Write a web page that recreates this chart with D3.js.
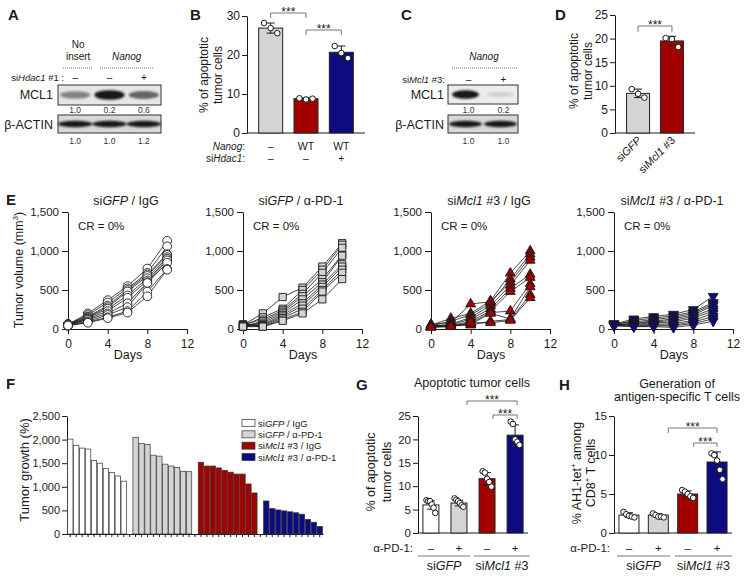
<!DOCTYPE html>
<html>
<head>
<meta charset="utf-8">
<script src="https://cdn.jsdelivr.net/npm/d3@7"></script>
<style>
  body { margin: 0; background: #fff; }
  svg { font-family: 'Liberation Sans', Arial, sans-serif; }
</style>
</head>
<body>
<svg id="fig" width="747" height="577"></svg>
<script>
// ---------- data ----------

// A: MCL1 blot, no insert vs Nanog, +/- siHdac1 #1
const blotASiHdac1 = ['–', '–', '+'];
const blotAMcl1Quant = ['1.0', '0.2', '0.6'];
const blotAActinQuant = ['1.0', '1.0', '1.2'];
const blotAMcl1Band = [0.45, 0.95, 0.6];   // how dark the band looks
const blotAActinBand = [0.95, 0.95, 0.95];

// B: % apoptotic tumor cells
const bNanog = ['–', 'WT', 'WT'];
const bSiHdac1 = ['–', '–', '+'];
const bMeans = [26.9, 8.8, 20.7];
const bSd = [1.3, 0.2, 1.6];
const bPoints = [[28.2, 26.9, 25.6], [8.9, 8.6, 8.8], [22.3, 20.5, 19.2]];
const bTicks = [0, 10, 20, 30];

// C: MCL1 blot, Nanog +/- siMcl1 #3
const blotCSiMcl1 = ['–', '+'];
const blotCMcl1Quant = ['1.0', '0.2'];
const blotCActinQuant = ['1.0', '1.0'];
const blotCMcl1Band = [0.95, 0.12];
const blotCActinBand = [0.95, 0.95];

// D: % apoptotic tumor cells
const dLabels = [[['si'], ['GFP', 'i']], [['si'], ['Mcl1', 'i'], [' #3']]];
const dMeans = [8.4, 19.5];
const dSd = [0.9, 1.0];
const dPoints = [[9.3, 8.3, 7.5], [20.1, 19.9, 18.2]];
const dTicks = [0, 5, 10, 15, 20, 25];

// E: tumor volume (mm3) per mouse
const eDays = [0, 2, 4, 6, 8, 10];
const eGfpIgg = [
  [60, 200, 370, 550, 775, 1130],
  [55, 180, 340, 520, 720, 1060],
  [65, 160, 300, 500, 700, 960],
  [50, 150, 280, 480, 680, 950],
  [60, 140, 260, 430, 650, 920],
  [45, 130, 230, 400, 620, 900],
  [55, 120, 200, 330, 600, 880],
  [50, 100, 180, 280, 590, 850],
  [40, 90, 150, 230, 480, 770],
  [45, 80, 140, 210, 420, 760]
];
const eGfpPd1 = [
  [50, 200, 410, 530, 800, 1100],
  [40, 150, 260, 500, 760, 1080],
  [60, 120, 240, 450, 720, 1040],
  [30, 100, 220, 420, 640, 950],
  [45, 80, 200, 380, 600, 940],
  [55, 60, 180, 330, 570, 830],
  [35, 50, 160, 300, 540, 800],
  [50, 40, 140, 260, 500, 760],
  [40, 30, 120, 220, 480, 720],
  [30, 30, 105, 200, 380, 640]
];
const eMclIgg = [
  [50, 135, 200, 360, 715, 1000],
  [40, 100, 180, 330, 640, 960],
  [60, 80, 320, 350, 600, 920],
  [30, 60, 150, 300, 560, 880],
  [45, 50, 130, 260, 520, 700],
  [25, 40, 100, 230, 480, 660],
  [55, 30, 80, 210, 230, 580],
  [35, 50, 60, 200, 130, 540],
  [30, 40, 50, 100, 120, 440],
  [20, 30, 80, 80, 110, 400]
];
const eMclPd1 = [
  [60, 130, 160, 190, 250, 420],
  [50, 110, 140, 170, 220, 340],
  [70, 90, 120, 150, 200, 320],
  [40, 80, 100, 130, 180, 300],
  [55, 70, 90, 110, 160, 260],
  [45, 60, 80, 90, 140, 230],
  [65, 50, 60, 70, 110, 200],
  [40, 40, 50, 50, 90, 160],
  [50, 30, 40, 40, 70, 130],
  [45, 30, 30, 20, 50, 100]
];
const eTicksX = [0, 4, 8, 12];
const eTicksY = [0, 500, 1000, 1500];

// F: tumor growth (%) waterfall
const fGfpIgg = [2010, 1880, 1820, 1800, 1560, 1500, 1390, 1300, 1230, 1120];
const fGfpPd1 = [2050, 1920, 1900, 1670, 1650, 1480, 1440, 1410, 1330, 1320];
const fMclIgg = [1520, 1440, 1440, 1400, 1350, 1310, 1270, 1270, 1060, 870];
const fMclPd1 = [700, 540, 510, 490, 470, 450, 420, 310, 250, 160];
const fTicks = [0, 500, 1000, 1500, 2000, 2500];
const fLegend = [
  [['si'], ['GFP', 'i'], [' / IgG']],
  [['si'], ['GFP', 'i'], [' / α-PD-1']],
  [['si'], ['Mcl1', 'i'], [' #3 / IgG']],
  [['si'], ['Mcl1', 'i'], [' #3 / α-PD-1']]
];

// G: apoptotic tumor cells
const gMeans = [6.0, 6.4, 11.6, 20.9];
const gSd = [0.9, 0.6, 1.3, 2.2];
const gPoints = [
  [7.0, 6.8, 6.8, 6.1, 5.4, 4.3],
  [7.4, 7.1, 6.8, 6.4, 5.9, 5.6],
  [13.2, 12.9, 11.6, 10.9, 9.9],
  [23.8, 23.3, 20.0, 19.5, 18.8]
];
const gTicks = [0, 5, 10, 15, 20, 25];

// H: AH1-tet+ among CD8+ T cells
const hMeans = [2.3, 2.3, 5.0, 9.1];
const hSd = [0.3, 0.2, 0.4, 1.3];
const hPoints = [
  [2.7, 2.4, 2.2, 2.1, 2.0],
  [2.5, 2.3, 2.1, 2.1, 2.0],
  [5.5, 5.3, 5.0, 4.7, 4.5],
  [10.2, 10.0, 9.3, 8.1, 6.9]
];
const hTicks = [0, 5, 10, 15];

const pd1Signs = ['–', '+', '–', '+'];
const groupColors = ['#ffffff', '#d4d4d4', '#a30000', '#0c0c80'];

// ---------- helpers ----------
const ink = '#1a1a1a';
const FONT = "'Liberation Sans', Arial, sans-serif";
const svg = d3.select('#fig');

svg.append('defs').append('filter').attr('id', 'blur')
  .attr('x', '-20%').attr('y', '-50%').attr('width', '140%').attr('height', '200%')
  .append('feGaussianBlur').attr('stdDeviation', 1.3);

function addText(parent, x, y, parts, o = {}) {
  const size = o.size || 12;
  const t = parent.append('text')
    .attr('x', x).attr('y', y)
    .attr('font-size', size)
    .attr('text-anchor', o.anchor || 'start')
    .attr('fill', o.fill || ink);
  if (o.bold) t.attr('font-weight', 'bold');
  if (o.rotate) t.attr('transform', `rotate(${o.rotate},${x},${y})`);
  const list = typeof parts === 'string' ? [[parts]] : parts;
  let shifted = false;
  list.forEach(([s, k]) => {
    const ts = t.append('tspan').text(s);
    if (k === 'i') ts.attr('font-style', 'italic');
    if (k === 'sup') {
      ts.attr('font-size', size * 0.62).attr('dy', -size * 0.42);
      shifted = true;
    } else if (shifted) {
      ts.attr('dy', size * 0.42);
      shifted = false;
    }
  });
  return t;
}

function styleAxis(sel, size) {
  sel.attr('font-family', FONT).attr('font-size', size);
  sel.select('.domain').attr('stroke', ink).attr('stroke-width', 1);
  sel.selectAll('.tick line').attr('stroke', ink);
  sel.selectAll('.tick text').attr('fill', ink);
}

function bracket(x1, x2, yLine, drop) {
  const g = svg.append('g');
  g.append('path')
    .attr('d', `M${x1},${yLine + drop}V${yLine}H${x2}V${yLine + drop}`)
    .attr('fill', 'none').attr('stroke', '#666').attr('stroke-width', 0.9);
  addText(g, (x1 + x2) / 2, yLine + 2.5, '***', { size: 12, anchor: 'middle' });
}

function blot(cfg) {
  const g = svg.append('g');
  const lane = d3.scaleBand().domain(d3.range(cfg.bands.length)).range([cfg.x0, cfg.x1]);
  g.append('rect')
    .attr('x', cfg.x0).attr('y', cfg.y0)
    .attr('width', cfg.x1 - cfg.x0).attr('height', cfg.y1 - cfg.y0)
    .attr('fill', cfg.bg).attr('stroke', '#333').attr('stroke-width', 1);
  g.selectAll('ellipse').data(cfg.bands).join('ellipse')
    .attr('cx', (d, i) => lane(i) + lane.bandwidth() / 2)
    .attr('cy', (cfg.y0 + cfg.y1) / 2 + (cfg.dy || 0))
    .attr('rx', lane.bandwidth() / 2 - cfg.inset)
    .attr('ry', d => cfg.ry * (0.6 + 0.5 * d))
    .attr('fill', '#111').attr('opacity', d => d)
    .attr('filter', 'url(#blur)');
  return d => lane(d) + lane.bandwidth() / 2;
}

function barPanel(cfg) {
  const y = d3.scaleLinear().domain([0, cfg.max]).range([cfg.yBase, cfg.yTop]);
  const x = d3.scalePoint().domain(d3.range(cfg.means.length))
    .range([cfg.x0, cfg.x1]).padding(cfg.pad);
  const g = svg.append('g');

  g.append('g').attr('transform', `translate(${cfg.x0},0)`)
    .call(d3.axisLeft(y).tickValues(cfg.ticks).tickSize(5).tickPadding(2).tickSizeOuter(0))
    .call(s => styleAxis(s, cfg.tickFont || 12));
  g.append('line')
    .attr('x1', cfg.x0).attr('x2', cfg.x1)
    .attr('y1', cfg.yBase).attr('y2', cfg.yBase)
    .attr('stroke', ink);

  g.selectAll('rect.bar').data(cfg.means).join('rect')
    .attr('class', 'bar')
    .attr('x', (d, i) => x(i) - cfg.bw / 2).attr('width', cfg.bw)
    .attr('y', d => y(d)).attr('height', d => cfg.yBase - y(d))
    .attr('fill', (d, i) => cfg.colors[i])
    .attr('stroke', '#222').attr('stroke-width', 1);

  // mean +/- SD
  cfg.means.forEach((m, i) => {
    const lo = y(m - cfg.sd[i]), hi = y(m + cfg.sd[i]), cx = x(i), cw = 4;
    g.append('path')
      .attr('d', `M${cx},${lo}V${hi}M${cx - cw},${hi}H${cx + cw}M${cx - cw},${lo}H${cx + cw}`)
      .attr('stroke', ink).attr('stroke-width', 1).attr('fill', 'none');
  });

  cfg.points.forEach((pts, i) => {
    const n = pts.length, spread = cfg.bw * 0.55;
    pts.forEach((v, j) => {
      const off = n > 1 ? (j / (n - 1) - 0.5) * spread : 0;
      g.append('circle')
        .attr('cx', x(i) + off).attr('cy', y(v)).attr('r', 2.8)
        .attr('fill', '#fff').attr('stroke', ink).attr('stroke-width', 1);
    });
  });
  return { x, y, g };
}

// ---------- panel letters ----------
[['A', 8, 20], ['B', 190, 20], ['C', 401, 20], ['D', 555, 20],
 ['E', 6, 205], ['F', 6, 389], ['G', 356, 390], ['H', 559, 390]]
  .forEach(([s, x, y]) => addText(svg, x, y, s, { size: 15, bold: true }));

// ---------- A ----------
{
  const g = svg.append('g');
  const laneA = blot({ x0: 58, x1: 161, y0: 85, y1: 105, bands: blotAMcl1Band, bg: '#e6e6e6', ry: 4.5, inset: 2 });
  blot({ x0: 58, x1: 161, y0: 115, y1: 133, bands: blotAActinBand, bg: '#d8d8d8', ry: 3, inset: 0 });
  addText(g, laneA(0) + 3, 48, 'No', { size: 10, anchor: 'middle' });
  addText(g, laneA(0) + 3, 60, 'insert', { size: 10, anchor: 'middle' });
  addText(g, (laneA(1) + laneA(2)) / 2, 60, [['Nanog', 'i']], { size: 10, anchor: 'middle' });
  [[63, 93], [100, 154]].forEach(([a, b]) => g.append('line')
    .attr('x1', a).attr('x2', b).attr('y1', 68).attr('y2', 68)
    .attr('stroke', '#777').attr('stroke-dasharray', '1,1'));
  addText(g, 64, 81, [['si'], ['Hdac1', 'i'], [' #1 :']], { size: 9.5, anchor: 'end' });
  blotASiHdac1.forEach((s, i) => addText(g, laneA(i), 81, s, { size: 10, anchor: 'middle' }));
  addText(g, 53, 99, 'MCL1', { size: 12.5, anchor: 'end' });
  addText(g, 53, 129, 'β-ACTIN', { size: 12.5, anchor: 'end' });
  blotAMcl1Quant.forEach((s, i) => addText(g, laneA(i), 113, s, { size: 8.5, anchor: 'middle', fill: '#333' }));
  blotAActinQuant.forEach((s, i) => addText(g, laneA(i), 144, s, { size: 8.5, anchor: 'middle', fill: '#333' }));
}

// ---------- B ----------
{
  const p = barPanel({ x0: 247, x1: 365, yBase: 133, yTop: 16, max: 30, ticks: bTicks, pad: 0.67,
    bw: 24, means: bMeans, sd: bSd, points: bPoints, colors: groupColors.slice(1) });
  addText(svg, 208, 75, '% of apoptotic', { size: 12, anchor: 'middle', rotate: -90 });
  addText(svg, 222, 75, 'tumor cells', { size: 12, anchor: 'middle', rotate: -90 });
  addText(svg, 245, 150, [['Nanog', 'i'], [':']], { size: 10, anchor: 'end' });
  addText(svg, 245, 162, [['si'], ['Hdac1', 'i'], [':']], { size: 10, anchor: 'end' });
  bNanog.forEach((s, i) => addText(svg, p.x(i), 150, s, { size: 10.5, anchor: 'middle' }));
  bSiHdac1.forEach((s, i) => addText(svg, p.x(i), 162, s, { size: 10.5, anchor: 'middle' }));
  bracket(p.x(0), p.x(1), 13, 5);
  bracket(p.x(1), p.x(2), 30, 5);
}

// ---------- C ----------
{
  const g = svg.append('g');
  const laneC = blot({ x0: 448, x1: 518, y0: 85, y1: 104, bands: blotCMcl1Band, bg: '#ececec', ry: 4, inset: 4 });
  blot({ x0: 448, x1: 518, y0: 115, y1: 133, bands: blotCActinBand, bg: '#d8d8d8', ry: 3, inset: 1 });
  addText(g, 484, 60, [['Nanog', 'i']], { size: 10, anchor: 'middle' });
  g.append('line').attr('x1', 452).attr('x2', 518).attr('y1', 68).attr('y2', 68)
    .attr('stroke', '#777').attr('stroke-dasharray', '1,1');
  addText(g, 445, 83, [['si'], ['Mcl1', 'i'], [' #3:']], { size: 9.5, anchor: 'end' });
  blotCSiMcl1.forEach((s, i) => addText(g, laneC(i) + 3, 83, s, { size: 10, anchor: 'middle' }));
  addText(g, 444, 99, 'MCL1', { size: 12.5, anchor: 'end' });
  addText(g, 444, 129, 'β-ACTIN', { size: 12.5, anchor: 'end' });
  blotCMcl1Quant.forEach((s, i) => addText(g, laneC(i) + 3, 113, s, { size: 8.5, anchor: 'middle', fill: '#333' }));
  blotCActinQuant.forEach((s, i) => addText(g, laneC(i) + 3, 144, s, { size: 8.5, anchor: 'middle', fill: '#333' }));
}

// ---------- D ----------
{
  const p = barPanel({ x0: 615, x1: 695, yBase: 133, yTop: 15, max: 25, ticks: dTicks, pad: 0.68,
    bw: 23, means: dMeans, sd: dSd, points: dPoints, colors: [groupColors[1], groupColors[2]] });
  addText(svg, 578, 71, '% of apoptotic', { size: 12, anchor: 'middle', rotate: -90 });
  addText(svg, 592, 71, 'tumor cells', { size: 12, anchor: 'middle', rotate: -90 });
  dLabels.forEach((parts, i) => addText(svg, p.x(i) + 4, 141, parts, { size: 11, anchor: 'end', rotate: -45 }));
  bracket(p.x(0), p.x(1), 26, 6);
}

// ---------- E ----------
const ePanels = [
  { x0: 68, data: eGfpIgg, sym: d3.symbolCircle, size: 60, rot: 0, fill: groupColors[0],
    title: [['si'], ['GFP', 'i'], [' / IgG']] },
  { x0: 243, data: eGfpPd1, sym: d3.symbolSquare, size: 52, rot: 0, fill: groupColors[1],
    title: [['si'], ['GFP', 'i'], [' / α-PD-1']] },
  { x0: 431, data: eMclIgg, sym: d3.symbolTriangle, size: 42, rot: 0, fill: groupColors[2],
    title: [['si'], ['Mcl1', 'i'], [' #3 / IgG']] },
  { x0: 614, data: eMclPd1, sym: d3.symbolTriangle, size: 42, rot: 180, fill: groupColors[3],
    title: [['si'], ['Mcl1', 'i'], [' #3 / α-PD-1']] }
];

ePanels.forEach((pn) => {
  const g = svg.append('g');
  const x = d3.scaleLinear().domain([0, 12]).range([pn.x0, pn.x0 + 119]);
  const y = d3.scaleLinear().domain([0, 1500]).range([329, 212]);

  g.append('g').attr('transform', 'translate(0,329)')
    .call(d3.axisBottom(x).tickValues(eTicksX).tickSize(5).tickPadding(5).tickSizeOuter(0))
    .call(s => styleAxis(s, 12));
  g.append('g').attr('transform', `translate(${pn.x0},0)`)
    .call(d3.axisLeft(y).tickValues(eTicksY).tickFormat(d3.format(',')).tickSize(6).tickPadding(3).tickSizeOuter(0))
    .call(s => styleAxis(s, 11.5));

  const line = d3.line().x((d, i) => x(eDays[i])).y(d => y(d));
  g.selectAll('path.mouse').data(pn.data).join('path')
    .attr('class', 'mouse').attr('d', line)
    .attr('fill', 'none').attr('stroke', ink).attr('stroke-width', 0.8);

  const sym = d3.symbol().type(pn.sym).size(pn.size);
  pn.data.forEach(series => {
    g.selectAll(null).data(series).join('path')
      .attr('d', sym)
      .attr('transform', (d, i) => `translate(${x(eDays[i])},${y(d)}) rotate(${pn.rot})`)
      .attr('fill', pn.fill).attr('stroke', ink).attr('stroke-width', 0.9);
  });

  addText(g, pn.x0 + 58, 205, pn.title, { size: 12.5, anchor: 'middle' });
  addText(g, pn.x0 + 10, 230, 'CR = 0%', { size: 11.5 });
  addText(g, pn.x0 + 60, 359, 'Days', { size: 12.5, anchor: 'middle' });
});
addText(svg, 23, 270, [['Tumor volume (mm'], ['3', 'sup'], [')']], { size: 12.5, anchor: 'middle', rotate: -90 });

// ---------- F ----------
{
  const g = svg.append('g');
  const fAll = [fGfpIgg, fGfpPd1, fMclIgg, fMclPd1];
  const fData = fAll.flatMap((arr, gi) => arr.map((v, i) => ({ v, gi, slot: gi * 11 + i })));
  const x = d3.scaleBand().domain(d3.range(43)).range([67, 323]).paddingInner(0.1).paddingOuter(0.1);
  const y = d3.scaleLinear().domain([0, 2500]).range([534, 416]);

  g.append('g').attr('transform', 'translate(0,534)')
    .call(d3.axisBottom(x).tickFormat('').tickSize(3).tickSizeOuter(0))
    .call(s => styleAxis(s, 11));
  g.append('g').attr('transform', 'translate(67,0)')
    .call(d3.axisLeft(y).tickValues(fTicks).tickSize(5).tickPadding(2).tickSizeOuter(0))
    .call(s => styleAxis(s, 11));

  g.selectAll('rect.bar').data(fData).join('rect')
    .attr('class', 'bar')
    .attr('x', d => x(d.slot)).attr('width', x.bandwidth())
    .attr('y', d => y(d.v)).attr('height', d => 534 - y(d.v))
    .attr('fill', d => groupColors[d.gi]).attr('stroke', '#333').attr('stroke-width', 0.7);

  addText(g, 29, 470, 'Tumor growth (%)', { size: 13, anchor: 'middle', rotate: -90 });

  const legY = d3.scalePoint().domain(d3.range(4)).range([423, 457]);
  fLegend.forEach((parts, i) => {
    g.append('rect').attr('x', 242).attr('y', legY(i) - 3.5).attr('width', 13).attr('height', 7)
      .attr('fill', groupColors[i]).attr('stroke', '#333').attr('stroke-width', 0.7);
    addText(g, 258, legY(i) + 3.5, parts, { size: 9.5 });
  });
}

// ---------- G and H shared bottom labels ----------
function groupLabels(p, labelRight, lines) {
  addText(svg, labelRight, 552, 'α-PD-1:', { size: 11.5, anchor: 'end' });
  pd1Signs.forEach((s, i) => addText(svg, p.x(i), 552, s, { size: 11.5, anchor: 'middle' }));
  lines.forEach(([a, b, parts]) => {
    svg.append('line').attr('x1', a).attr('x2', b).attr('y1', 556).attr('y2', 556)
      .attr('stroke', '#666').attr('stroke-width', 0.9);
    addText(svg, (a + b) / 2, 570, parts, { size: 12.5, anchor: 'middle' });
  });
}

// ---------- G ----------
{
  const p = barPanel({ x0: 418, x1: 528, yBase: 533, yTop: 416, max: 25, ticks: gTicks, pad: 0.46,
    bw: 16, means: gMeans, sd: gSd, points: gPoints, colors: groupColors, tickFont: 11.5 });
  addText(svg, 375, 472, '% of apoptotic', { size: 12.5, anchor: 'middle', rotate: -90 });
  addText(svg, 391, 472, 'tumor cells', { size: 12.5, anchor: 'middle', rotate: -90 });
  addText(svg, 472, 387, 'Apoptotic tumor cells', { size: 12.5, anchor: 'middle' });
  groupLabels(p, 413, [[418, 470, [['si'], ['GFP', 'i']]], [474, 530, [['si'], ['Mcl1', 'i'], [' #3']]]]);
  bracket(p.x(1) + 8, p.x(3) + 2, 401, 4);
  bracket(p.x(2) + 6, p.x(3) + 2, 415, 4);
}

// ---------- H ----------
{
  const p = barPanel({ x0: 614, x1: 732, yBase: 533, yTop: 416, max: 15, ticks: hTicks, pad: 0.51,
    bw: 20, means: hMeans, sd: hSd, points: hPoints, colors: groupColors, tickFont: 11.5 });
  addText(svg, 581, 473, [['% AH1-tet'], ['+', 'sup'], [' among']], { size: 12.5, anchor: 'middle', rotate: -90 });
  addText(svg, 595, 473, [['CD8'], ['+', 'sup'], [' T cells']], { size: 12.5, anchor: 'middle', rotate: -90 });
  addText(svg, 677, 388, 'Generation of', { size: 12.5, anchor: 'middle' });
  addText(svg, 677, 401, 'antigen-specific T cells', { size: 12.5, anchor: 'middle' });
  groupLabels(p, 610, [[617, 670, [['si'], ['GFP', 'i']]], [675, 732, [['si'], ['Mcl1', 'i'], [' #3']]]]);
  bracket(p.x(1) + 10, p.x(3), 428, 5);
  bracket(p.x(2) + 6, p.x(3), 443, 4);
}
</script>
</body>
</html>
